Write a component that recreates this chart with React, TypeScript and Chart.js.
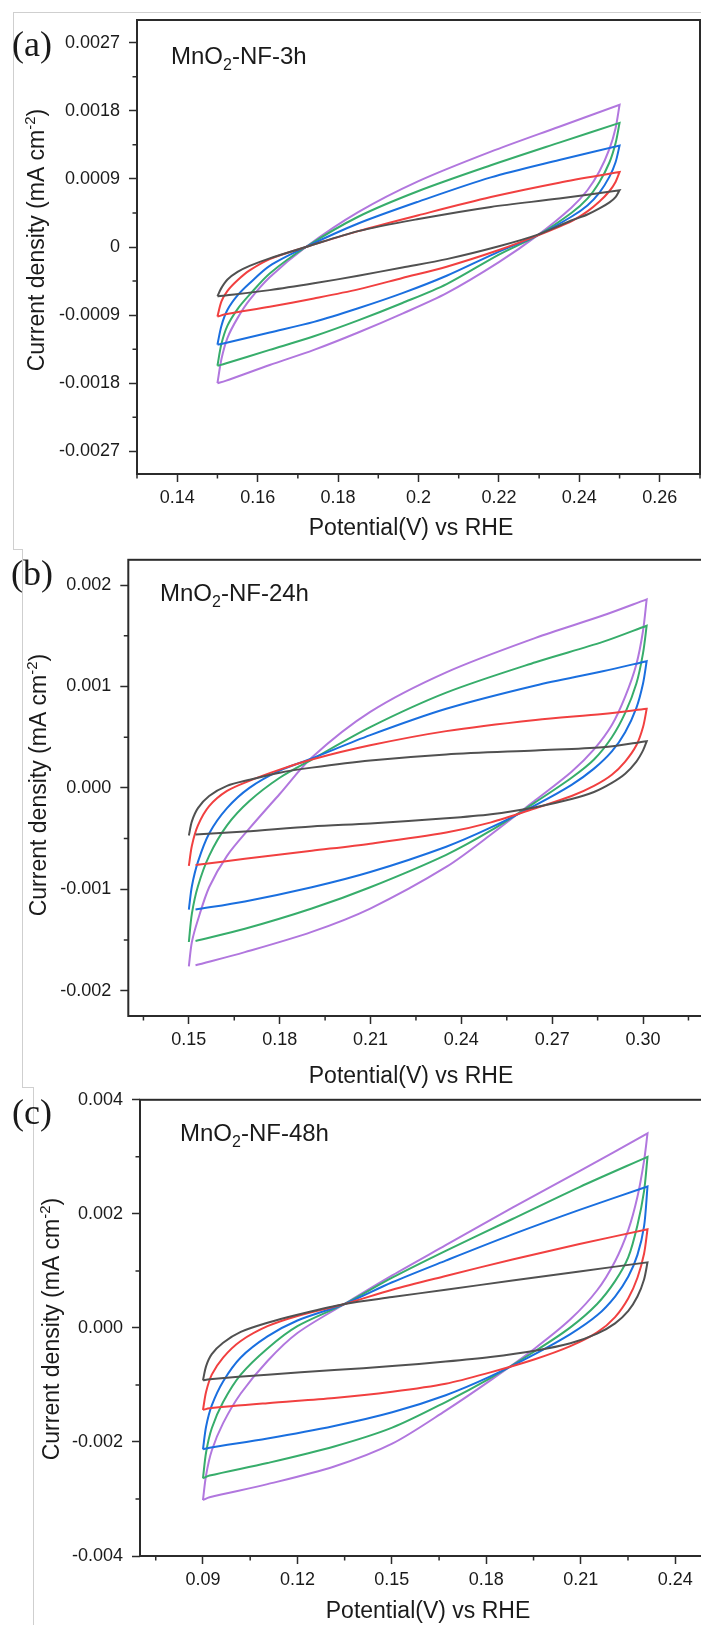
import React, { useEffect, useRef } from "react";
import { Chart, registerables } from "chart.js";

Chart.register(...registerables);

// ---------- colours of the five scan-rate curves ----------
const COLORS = ["#515151", "#F14040", "#1A6FDF", "#37AD6B", "#B177DE"];

// ---------- Panel (a) MnO2-NF-3h ----------
const aUpperX = [0.15, 0.151, 0.1525, 0.155, 0.158, 0.163, 0.172, 0.185, 0.2, 0.218, 0.235, 0.25];
const aLowerX = [0.25, 0.249, 0.2475, 0.245, 0.242, 0.238, 0.2295, 0.22, 0.207, 0.196, 0.185, 0.174, 0.163, 0.152, 0.15];
const a1Up = [-0.00065, -0.00054, -0.00043, -0.00033, -0.00025, -0.00015, 0.0, 0.00021, 0.00037, 0.00053, 0.00064, 0.00075];
const a2Up = [-0.00092, -0.00072, -0.00058, -0.00044, -0.00031, -0.00016, 0.0, 0.00021, 0.00042, 0.00066, 0.00085, 0.00099];
const a3Up = [-0.00129, -0.00104, -0.00083, -0.00064, -0.00048, -0.00025, 0.0, 0.00031, 0.0006, 0.00092, 0.00115, 0.00134];
const a4Up = [-0.00157, -0.00128, -0.00104, -0.00082, -0.00063, -0.00035, 0.0, 0.0004, 0.00074, 0.00108, 0.00138, 0.00164];
const a5Up = [-0.0018, -0.00148, -0.0012, -0.00094, -0.0007, -0.0004, 0.0, 0.00046, 0.00087, 0.00126, 0.00159, 0.00188];
const a1Dn = [0.00075, 0.00066, 0.00059, 0.00051, 0.00043, 0.00035, 0.00016, 0.00001, -0.00016, -0.00027, -0.00038, -0.00048, -0.00057, -0.00064, -0.00065];
const a2Dn = [0.00099, 0.00086, 0.00074, 0.0006, 0.00047, 0.00034, 0.00015, -0.00004, -0.00026, -0.00041, -0.00056, -0.00068, -0.00079, -0.00089, -0.00092];
const a3Dn = [0.00134, 0.00112, 0.00093, 0.00072, 0.00055, 0.0004, 0.00015, -0.00006, -0.00038, -0.00061, -0.00081, -0.00099, -0.00113, -0.00127, -0.00129];
const a4Dn = [0.00164, 0.00137, 0.00112, 0.00086, 0.00064, 0.00045, 0.00015, -0.0001, -0.00049, -0.00074, -0.00097, -0.00118, -0.00136, -0.00154, -0.00157];
const a5Dn = [0.00188, 0.00157, 0.0013, 0.001, 0.00075, 0.00052, 0.00015, -0.0002, -0.00061, -0.00088, -0.00113, -0.00136, -0.00156, -0.00177, -0.0018];
const aXTicks = [0.14, 0.16, 0.18, 0.2, 0.22, 0.24, 0.26];
const aXLabels = ["0.14", "0.16", "0.18", "0.2", "0.22", "0.24", "0.26"];
const aXMinor = [0.13, 0.15, 0.17, 0.19, 0.21, 0.23, 0.25, 0.27];
const aYTicks = [-0.0027, -0.0018, -0.0009, 0, 0.0009, 0.0018, 0.0027];
const aYLabels = ["-0.0027", "-0.0018", "-0.0009", "0", "0.0009", "0.0018", "0.0027"];
const aYMinor = [-0.00225, -0.00135, -0.00045, 0.00045, 0.00135, 0.00225];

// ---------- Panel (b) MnO2-NF-24h ----------
const bUpperX = [0.15, 0.151, 0.153, 0.1567, 0.1626, 0.17, 0.18, 0.1906, 0.2099, 0.235, 0.2645, 0.2867, 0.3012];
const bLowerX = [0.3012, 0.3, 0.2978, 0.2941, 0.2897, 0.2838, 0.2764, 0.2645, 0.2498, 0.235, 0.2099, 0.1906, 0.1685, 0.1522];
const b1Up = [-0.00047, -0.00033, -0.0002, -0.00008, 0.00002, 0.00008, 0.00015, 0.0002, 0.00027, 0.00033, 0.00037, 0.0004, 0.00046];
const b2Up = [-0.00077, -0.00057, -0.00037, -0.00018, -0.00003, 0.00007, 0.00018, 0.00028, 0.00042, 0.00056, 0.00067, 0.00073, 0.00078];
const b3Up = [-0.0012, -0.00097, -0.00073, -0.00045, -0.0002, 0.0, 0.00017, 0.00029, 0.00052, 0.00078, 0.00101, 0.00115, 0.00125];
const b4Up = [-0.00152, -0.00124, -0.00097, -0.00067, -0.00037, -0.00013, 0.0001, 0.00028, 0.0006, 0.00094, 0.00124, 0.00144, 0.0016];
const b5Up = [-0.00176, -0.00152, -0.0013, -0.00098, -0.00067, -0.0004, -0.00006, 0.0003, 0.00075, 0.00114, 0.00148, 0.0017, 0.00186];
const b1Dn = [0.00046, 0.00037, 0.00026, 0.00014, 0.00005, -0.00004, -0.00011, -0.00019, -0.00026, -0.0003, -0.00035, -0.00038, -0.00043, -0.00046];
const b2Dn = [0.00078, 0.0006, 0.00042, 0.00026, 0.00013, 0.00002, -0.00008, -0.0002, -0.00034, -0.00044, -0.00055, -0.00062, -0.0007, -0.00076];
const b3Dn = [0.00125, 0.00103, 0.00079, 0.00055, 0.00036, 0.00019, 0.00003, -0.00017, -0.00039, -0.00058, -0.00083, -0.00098, -0.00112, -0.0012];
const b4Dn = [0.0016, 0.00133, 0.00103, 0.00074, 0.0005, 0.00028, 0.0001, -0.00014, -0.00042, -0.00066, -0.00098, -0.00119, -0.00139, -0.00151];
const b5Dn = [0.00186, 0.00155, 0.00122, 0.0009, 0.00062, 0.00038, 0.00016, -0.00012, -0.00046, -0.00078, -0.00119, -0.00142, -0.00162, -0.00175];
const bXTicks = [0.15, 0.18, 0.21, 0.24, 0.27, 0.3];
const bXLabels = ["0.15", "0.18", "0.21", "0.24", "0.27", "0.30"];
const bXMinor = [0.135, 0.165, 0.195, 0.225, 0.255, 0.285, 0.315];
const bYTicks = [-0.002, -0.001, 0, 0.001, 0.002];
const bYLabels = ["-0.002", "-0.001", "0.000", "0.001", "0.002"];
const bYMinor = [-0.0015, -0.0005, 0.0005, 0.0015];

// ---------- Panel (c) MnO2-NF-48h ----------
const cUpperX = [0.09, 0.091, 0.0928, 0.0964, 0.102, 0.1105, 0.12, 0.135, 0.1501, 0.1671, 0.1883, 0.2096, 0.2312];
const cLowerX = [0.2312, 0.2301, 0.228, 0.2251, 0.2209, 0.2152, 0.2067, 0.1954, 0.1813, 0.1671, 0.1501, 0.1317, 0.1105, 0.0921, 0.09];
const c1Up = [-0.00092, -0.00067, -0.00046, -0.00026, -0.00007, 0.00009, 0.00023, 0.00042, 0.00054, 0.00067, 0.00083, 0.00099, 0.00115];
const c2Up = [-0.00144, -0.00112, -0.00082, -0.00052, -0.00023, 0.00003, 0.00021, 0.00042, 0.00067, 0.00091, 0.0012, 0.00147, 0.00173];
const c3Up = [-0.00213, -0.00173, -0.00136, -0.00094, -0.00052, -0.00015, 0.00013, 0.00042, 0.0008, 0.00118, 0.00164, 0.00207, 0.00248];
const c4Up = [-0.00264, -0.00218, -0.00176, -0.0013, -0.00082, -0.00036, 0.00003, 0.00042, 0.00088, 0.00135, 0.00191, 0.00247, 0.003];
const c5Up = [-0.00302, -0.00258, -0.00215, -0.00167, -0.00115, -0.00058, -0.00009, 0.00042, 0.00092, 0.00145, 0.00211, 0.00275, 0.00341];
const c1Dn = [0.00115, 0.00085, 0.00055, 0.0003, 0.00008, -0.0001, -0.00027, -0.0004, -0.00051, -0.00059, -0.00067, -0.00074, -0.00082, -0.0009, -0.00092];
const c2Dn = [0.00173, 0.0013, 0.00088, 0.00052, 0.00019, -0.00008, -0.00032, -0.00055, -0.00078, -0.00098, -0.00112, -0.00123, -0.00132, -0.00141, -0.00144];
const c3Dn = [0.00248, 0.00178, 0.00128, 0.0009, 0.00055, 0.00022, -0.00011, -0.00046, -0.00085, -0.00118, -0.00148, -0.00172, -0.00194, -0.0021, -0.00213];
const c4Dn = [0.003, 0.0024, 0.0018, 0.00124, 0.00082, 0.00042, 0.00001, -0.00041, -0.00088, -0.0013, -0.00175, -0.00208, -0.00237, -0.00259, -0.00264];
const c5Dn = [0.00341, 0.00293, 0.0023, 0.00172, 0.00117, 0.00066, 0.00015, -0.00036, -0.00092, -0.00145, -0.00203, -0.00243, -0.00274, -0.00297, -0.00302];
const cXTicks = [0.09, 0.12, 0.15, 0.18, 0.21, 0.24];
const cXLabels = ["0.09", "0.12", "0.15", "0.18", "0.21", "0.24"];
const cXMinor = [0.075, 0.105, 0.135, 0.165, 0.195, 0.225];
const cYTicks = [-0.004, -0.002, 0, 0.002, 0.004];
const cYLabels = ["-0.004", "-0.002", "0.000", "0.002", "0.004"];
const cYMinor = [-0.003, -0.001, 0.001, 0.003];

const X_TITLE = "Potential(V) vs RHE";
const CANVAS_W = 712;
const SANS = '"Liberation Sans", Arial, sans-serif';
const SERIF = '"Liberation Serif", "Times New Roman", serif';
const INK = "#1a1a1a";
const AXIS = "#2b2b2b";

type Panel = {
  key: string;
  letter: string;
  suffix: string;
  upX: number[];
  dnX: number[];
  up: number[][];
  dn: number[][];
  xRange: [number, number];
  yRange: [number, number];
  xTicks: number[];
  xLabels: string[];
  xMinor: number[];
  yTicks: number[];
  yLabels: string[];
  yMinor: number[];
  top: number;
  height: number;
  area: { l: number; t: number; r: number; b: number };
  letterPos: [number, number];
  samplePos: [number, number];
  yTitlePos: [number, number];
  xTitlePos: [number, number];
};

const PANELS: Panel[] = [
  {
    key: "a", letter: "(a)", suffix: "-NF-3h",
    upX: aUpperX, dnX: aLowerX,
    up: [a1Up, a2Up, a3Up, a4Up, a5Up], dn: [a1Dn, a2Dn, a3Dn, a4Dn, a5Dn],
    xRange: [0.13, 0.27], yRange: [-0.003, 0.003],
    xTicks: aXTicks, xLabels: aXLabels, xMinor: aXMinor,
    yTicks: aYTicks, yLabels: aYLabels, yMinor: aYMinor,
    top: 0, height: 560, area: { l: 137, t: 20, r: 700, b: 474 },
    letterPos: [12, 56], samplePos: [171, 64], yTitlePos: [44, 240], xTitlePos: [411, 529],
  },
  {
    key: "b", letter: "(b)", suffix: "-NF-24h",
    upX: bUpperX, dnX: bLowerX,
    up: [b1Up, b2Up, b3Up, b4Up, b5Up], dn: [b1Dn, b2Dn, b3Dn, b4Dn, b5Dn],
    xRange: [0.13, 0.32], yRange: [-0.00225, 0.00225],
    xTicks: bXTicks, xLabels: bXLabels, xMinor: bXMinor,
    yTicks: bYTicks, yLabels: bYLabels, yMinor: bYMinor,
    top: 540, height: 560, area: { l: 128.3, t: 12.3, r: 703.6, b: 476 },
    letterPos: [11, 45], samplePos: [160, 61], yTitlePos: [46, 245], xTitlePos: [411, 537],
  },
  {
    key: "c", letter: "(c)", suffix: "-NF-48h",
    upX: cUpperX, dnX: cLowerX,
    up: [c1Up, c2Up, c3Up, c4Up, c5Up], dn: [c1Dn, c2Dn, c3Dn, c4Dn, c5Dn],
    xRange: [0.07, 0.25], yRange: [-0.004, 0.004],
    xTicks: cXTicks, xLabels: cXLabels, xMinor: cXMinor,
    yTicks: cYTicks, yLabels: cYLabels, yMinor: cYMinor,
    top: 1080, height: 545, area: { l: 140, t: 18, r: 706.7, b: 476 },
    letterPos: [12, 44], samplePos: [180, 61], yTitlePos: [59, 249], xTitlePos: [428, 532],
  },
];

function labelFor(ticks: number[], labels: string[], v: number): string {
  let best = 0;
  for (let i = 1; i < ticks.length; i++) {
    if (Math.abs(ticks[i] - v) < Math.abs(ticks[best] - v)) best = i;
  }
  return labels[best];
}

function decorPlugin(p: Panel) {
  return {
    id: "decor_" + p.key,
    afterDraw(chart: any) {
      const { ctx, chartArea: a, scales } = chart;
      const xs = scales.x;
      const ys = scales.y;
      ctx.save();
      // minor ticks
      ctx.strokeStyle = AXIS;
      ctx.lineWidth = 1.5;
      ctx.beginPath();
      p.xMinor.forEach((v) => {
        const px = xs.getPixelForValue(v);
        ctx.moveTo(px, a.bottom);
        ctx.lineTo(px, a.bottom + 4.5);
      });
      p.yMinor.forEach((v) => {
        const py = ys.getPixelForValue(v);
        ctx.moveTo(a.left, py);
        ctx.lineTo(a.left - 4.5, py);
      });
      ctx.stroke();
      // frame
      ctx.lineWidth = 2;
      ctx.strokeRect(a.left, a.top, a.right - a.left, a.bottom - a.top);

      ctx.fillStyle = INK;
      ctx.textAlign = "left";
      ctx.textBaseline = "alphabetic";
      // panel letter
      ctx.font = `36px ${SERIF}`;
      ctx.fillText(p.letter, p.letterPos[0], p.letterPos[1]);

      // sample label with subscript
      let sx = p.samplePos[0];
      const sy = p.samplePos[1];
      ctx.font = `24px ${SANS}`;
      ctx.fillText("MnO", sx, sy);
      sx += ctx.measureText("MnO").width;
      ctx.font = `16px ${SANS}`;
      ctx.fillText("2", sx, sy + 6);
      sx += ctx.measureText("2").width;
      ctx.font = `24px ${SANS}`;
      ctx.fillText(p.suffix, sx, sy);

      // x title
      ctx.font = `23px ${SANS}`;
      ctx.textAlign = "center";
      ctx.textBaseline = "middle";
      ctx.fillText(X_TITLE, p.xTitlePos[0], p.xTitlePos[1]);

      // y title (rotated) with superscript
      ctx.textAlign = "left";
      ctx.textBaseline = "alphabetic";
      const t1 = "Current density (mA cm";
      const t2 = "-2";
      const t3 = ")";
      ctx.font = `23px ${SANS}`;
      const w1 = ctx.measureText(t1).width;
      const w3 = ctx.measureText(t3).width;
      ctx.font = `15px ${SANS}`;
      const w2 = ctx.measureText(t2).width;
      const total = w1 + w2 + w3;
      ctx.translate(p.yTitlePos[0], p.yTitlePos[1]);
      ctx.rotate(-Math.PI / 2);
      let tx = -total / 2;
      ctx.font = `23px ${SANS}`;
      ctx.fillText(t1, tx, 0);
      tx += w1;
      ctx.font = `15px ${SANS}`;
      ctx.fillText(t2, tx, -9);
      tx += w2;
      ctx.font = `23px ${SANS}`;
      ctx.fillText(t3, tx, 0);
      ctx.restore();
    },
  };
}

function buildConfig(p: Panel): any {
  const datasets = COLORS.map((color, i) => ({
    label: `scan ${i + 1}`,
    data: [
      ...p.upX.map((x, k) => ({ x, y: p.up[i][k] })),
      ...p.dnX.map((x, k) => ({ x, y: p.dn[i][k] })),
    ],
    showLine: true,
    borderColor: color,
    backgroundColor: color,
    borderWidth: 2,
    pointRadius: 0,
    tension: 0.3,
    fill: false,
  }));
  const tickFont = { family: SANS, size: 18 };
  return {
    type: "scatter",
    data: { datasets },
    options: {
      animation: false,
      responsive: false,
      devicePixelRatio: 1,
      events: [],
      layout: { padding: { left: 0, top: p.area.t, right: CANVAS_W - p.area.r, bottom: 0 } },
      plugins: { legend: { display: false }, tooltip: { enabled: false } },
      scales: {
        x: {
          type: "linear",
          min: p.xRange[0],
          max: p.xRange[1],
          afterFit: (s: any) => {
            s.height = p.height - p.area.b;
          },
          afterBuildTicks: (s: any) => {
            s.ticks = p.xTicks.map((v) => ({ value: v }));
          },
          ticks: {
            autoSkip: false,
            maxRotation: 0,
            padding: 5,
            color: INK,
            font: tickFont,
            callback: (v: number) => labelFor(p.xTicks, p.xLabels, v),
          },
          grid: { drawOnChartArea: false, drawTicks: true, tickLength: 8, tickColor: AXIS, tickWidth: 1.5 },
          border: { display: false },
        },
        y: {
          type: "linear",
          min: p.yRange[0],
          max: p.yRange[1],
          afterFit: (s: any) => {
            s.width = p.area.l;
          },
          afterBuildTicks: (s: any) => {
            s.ticks = p.yTicks.map((v) => ({ value: v }));
          },
          ticks: {
            autoSkip: false,
            padding: 9,
            color: INK,
            font: tickFont,
            callback: (v: number) => labelFor(p.yTicks, p.yLabels, v),
          },
          grid: { drawOnChartArea: false, drawTicks: true, tickLength: 8, tickColor: AXIS, tickWidth: 1.5 },
          border: { display: false },
        },
      },
    },
    plugins: [decorPlugin(p)],
  };
}

function PanelChart({ p }: { p: Panel }) {
  const ref = useRef<HTMLCanvasElement | null>(null);
  useEffect(() => {
    if (!ref.current) return;
    const chart = new Chart(ref.current, buildConfig(p));
    return () => chart.destroy();
  }, [p]);
  return (
    <canvas
      ref={ref}
      width={CANVAS_W}
      height={p.height}
      style={{ position: "absolute", left: 0, top: p.top, width: CANVAS_W, height: p.height }}
    />
  );
}

const LINE = "#cfcfcf";
function Rule({ l, t, w, h }: { l: number; t: number; w: number; h: number }) {
  return <div style={{ position: "absolute", left: l, top: t, width: w, height: h, background: LINE }} />;
}

export default function App() {
  return (
    <div
      style={{
        position: "absolute",
        left: 0,
        top: 0,
        width: 701,
        height: 1625,
        overflow: "hidden",
        background: "#ffffff",
      }}
    >
      <Rule l={13} t={12} w={688} h={1} />
      <Rule l={13} t={12} w={1} h={537} />
      <Rule l={13} t={549} w={9} h={1} />
      <Rule l={22} t={549} w={1} h={538} />
      <Rule l={22} t={1087} w={11} h={1} />
      <Rule l={33} t={1087} w={1} h={538} />
      {PANELS.map((p) => (
        <PanelChart key={p.key} p={p} />
      ))}
    </div>
  );
}
